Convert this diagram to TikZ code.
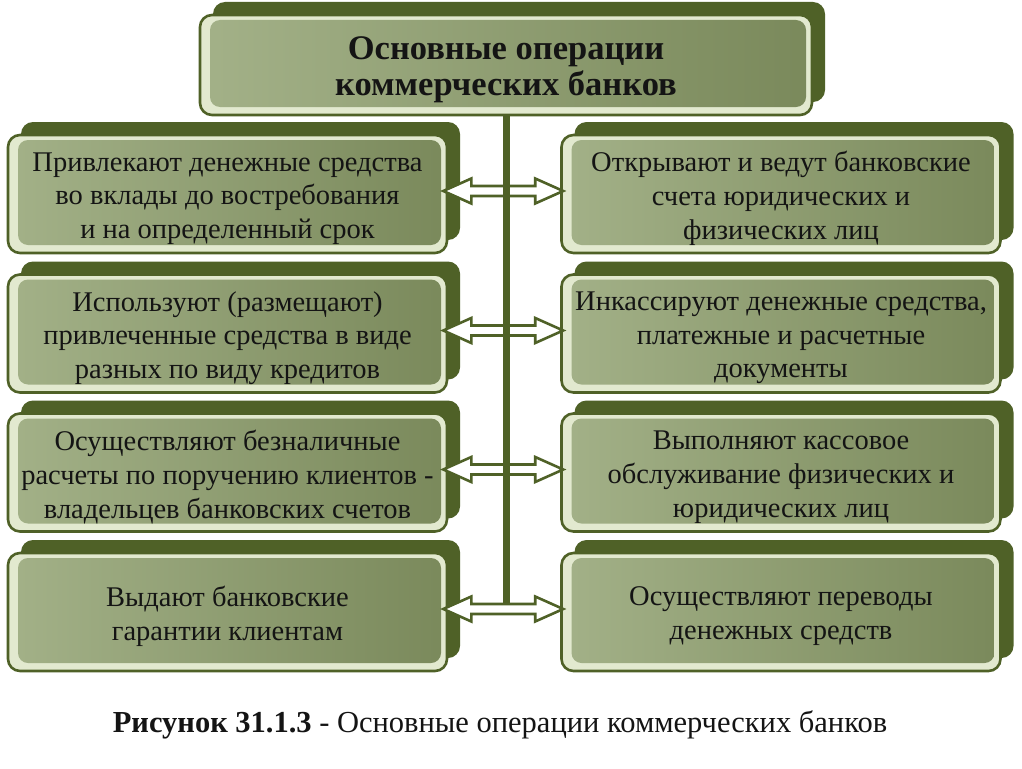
\documentclass[tikz,border=0pt]{standalone}
\usepackage{fontspec}
\setmainfont{Liberation Serif}
\usetikzlibrary{shadows,calc}
\definecolor{dkg}{HTML}{4F6127}
\definecolor{pale}{HTML}{E2E9CF}
\definecolor{sagel}{HTML}{A3B188}
\definecolor{saged}{HTML}{7A895B}
\definecolor{txt}{HTML}{141414}
\tikzset{
  boxbase/.style={rounded corners=12pt, draw=dkg, line width=2.6pt, fill=pale,
    drop shadow={shadow xshift=13pt, shadow yshift=13pt, fill=dkg, opacity=1},
    inner sep=0pt,
    path picture={\shade[rounded corners=10pt, left color=sagel, right color=saged]
      ($(path picture bounding box.south west)+(10pt,8pt)$) rectangle
      ($(path picture bounding box.north east)+(-6pt,-5pt)$);}},
  opbox/.style={boxbase, minimum width=439pt, minimum height=118pt},
  titlebox/.style={boxbase, minimum width=612pt, minimum height=100pt},
  optext/.style={align=center, inner sep=0pt, text=txt, font=\fontsize{28.5}{33.7}\selectfont},
  titletext/.style={align=center, inner sep=0pt, text=txt, font=\bfseries\fontsize{34.5}{36}\selectfont},
  arrowst/.style={draw=dkg, line width=2.6pt, fill=white, line join=miter},
  trunkst/.style={draw=dkg, line width=7pt},
  capst/.style={font=\fontsize{30.5}{34}\selectfont, text=txt, inner sep=0pt}
}
\newcommand{\dblarr}[2]{%
  \draw[arrowst] let \p1=($(#1.east)+(-5pt,3pt)$), \p2=($(#2.west)+(3pt,3pt)$) in
    (\x1,\y1) -- (\x1+28pt,\y1+12.5pt) -- (\x1+28pt,\y1+5pt) -- (\x2-28pt,\y1+5pt)
    -- (\x2-28pt,\y1+12.5pt) -- (\x2,\y1) -- (\x2-28pt,\y1-12.5pt) -- (\x2-28pt,\y1-5pt)
    -- (\x1+28pt,\y1-5pt) -- (\x1+28pt,\y1-12.5pt) -- cycle;}
\begin{document}
\begin{tikzpicture}[x=1pt,y=-1pt]
\useasboundingbox[fill=white] (0,0) rectangle (1022,768);

\node[titlebox] (T) at (506,65) {};
\node[titletext] (Tt) at ($(T.center)+(0,4.5)$) {Основные операции\\коммерческих банков};

\node[opbox] (L1) at (227.5,194) {};
\node[opbox] (R1) at (781,194) {};
\node[opbox] (L2) at (227.5,333.5) {};
\node[opbox] (R2) at (781,333.5) {};
\node[opbox] (L3) at (227.5,472.5) {};
\node[opbox] (R3) at (781,472.5) {};
\node[opbox] (L4) at (227.5,612) {};
\node[opbox] (R4) at (781,612) {};

\node[optext] (L1t) at ($(L1.center)+(0,4.5)$) {Привлекают денежные средства\\во вклады до востребования\\и на определенный срок};
\node[optext] (R1t) at ($(R1.center)+(0,4.5)$) {Открывают и ведут банковские\\счета юридических и\\физических лиц};
\node[optext] (L2t) at ($(L2.center)+(0,4.5)$) {Используют (размещают)\\привлеченные средства в виде\\разных по виду кредитов};
\node[optext] (R2t) at ($(R2.center)+(0,4.5)$) {Инкассируют денежные средства,\\платежные и расчетные\\документы};
\node[optext] (L3t) at ($(L3.center)+(0,4.5)$) {Осуществляют безналичные\\расчеты по поручению клиентов -\\владельцев банковских счетов};
\node[optext] (R3t) at ($(R3.center)+(0,4.5)$) {Выполняют кассовое\\обслуживание физических и\\юридических лиц};
\node[optext] (L4t) at ($(L4.center)+(0,4)$) {Выдают банковские\\гарантии клиентам};
\node[optext] (R4t) at ($(R4.center)+(0,4)$) {Осуществляют переводы\\денежных средств};

\dblarr{L1}{R1}
\dblarr{L2}{R2}
\dblarr{L3}{R3}
\dblarr{L4}{R4}

\coordinate (tend) at (506,603);
\draw[trunkst] (T.south) -- (tend);

\node[capst] (cap) at (500,725) {\textbf{Рисунок 31.1.3} - Основные операции коммерческих банков};
\end{tikzpicture}
\end{document}
